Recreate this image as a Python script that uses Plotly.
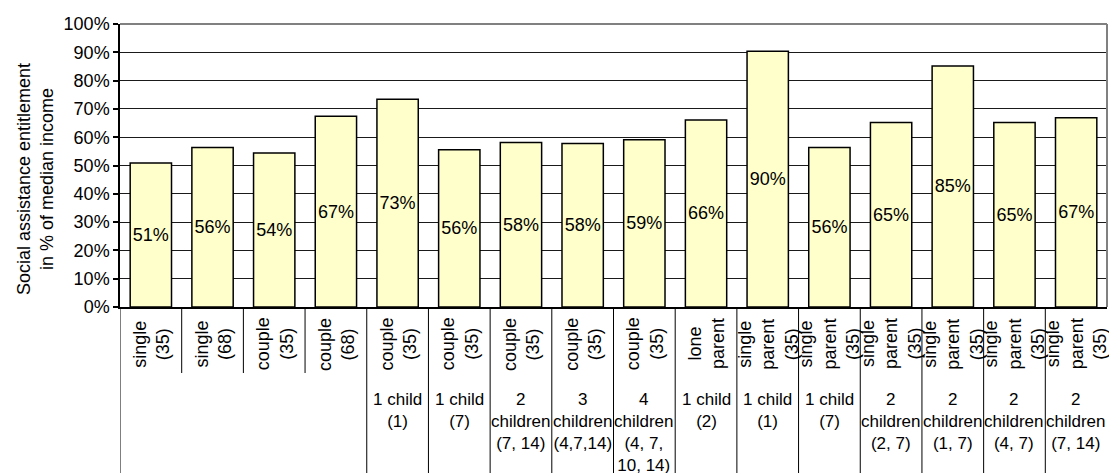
import plotly.graph_objects as go

# Household types: upper (rotated) label and lower (horizontal) label
household = ["single<br>(35)", "single<br>(68)", "couple<br>(35)", "couple<br>(68)",
             "couple<br>(35)", "couple<br>(35)", "couple<br>(35)", "couple<br>(35)",
             "couple<br>(35)", "lone<br>parent",
             "single<br>parent<br>(35)", "single<br>parent<br>(35)", "single<br>parent<br>(35)",
             "single<br>parent<br>(35)", "single<br>parent<br>(35)", "single<br>parent<br>(35)"]
children = ["", "", "", "",
            "1 child<br>(1)", "1 child<br>(7)", "2<br>children<br>(7, 14)",
            "3<br>children<br>(4,7,14)", "4<br>children<br>(4, 7,<br>10, 14)",
            "1 child<br>(2)", "1 child<br>(1)", "1 child<br>(7)",
            "2<br>children<br>(2, 7)", "2<br>children<br>(1, 7)",
            "2<br>children<br>(4, 7)", "2<br>children<br>(7, 14)"]

# Entitlement in % of median income
entitlement = [50.9, 56.4, 54.4, 67.4, 73.4, 55.6, 58.1, 57.8, 59.1, 66.1,
               90.4, 56.4, 65.2, 85.2, 65.2, 66.9]

y_ticks = [0, 10, 20, 30, 40, 50, 60, 70, 80, 90, 100]

# Groups of the lower label row: boundaries inside a group only cut the upper row
short_dividers = [1, 2, 3]

FONT = "Liberation Sans, Arial, sans-serif"

categories = [f"{h}|{c}|{i}" for i, (h, c) in enumerate(zip(household, children))]

fig = go.Figure()
fig.add_trace(go.Bar(
    x=categories,
    y=entitlement,
    marker=dict(color="#FFFFCC", line=dict(color="#000000", width=1.5)),
    texttemplate="%{y:.0f}%",
    textposition="inside",
    insidetextanchor="middle",
    textangle=0,
    constraintext="none",
    textfont=dict(family=FONT, size=18, color="#000000"),
    hoverinfo="skip",
))

W, H = 1109, 473
L, R, T, B = 120, 2, 24, 166
plot_h = H - T - B


def py(pixel_y):
    """Pixel row in the page -> paper y."""
    return (H - B - pixel_y) / plot_h


def px(pixel_x):
    """Pixel column in the page -> paper x."""
    return (pixel_x - L) / (W - L - R)


annotations = []
shapes = []
n = len(categories)

for i in range(n):
    annotations.append(dict(
        x=i, xref="x", y=py(344), yref="paper",
        text=household[i], textangle=-90, showarrow=False, align="center",
        xanchor="center", yanchor="middle",
        font=dict(family=FONT, size=18, color="#000000"),
    ))
    if children[i]:
        annotations.append(dict(
            x=i, xref="x", y=py(388), yref="paper",
            text=children[i], showarrow=False, align="center",
            xanchor="center", yanchor="top",
            font=dict(family=FONT, size=17, color="#000000"),
        ))

# Divider lines of the category table below the axis
for k in range(n):
    bottom = py(373) if k in short_dividers else py(H)
    shapes.append(dict(
        type="line", xref="x", yref="paper",
        x0=k - 0.5, x1=k - 0.5, y0=0, y1=bottom,
        line=dict(color="#000000", width=1),
    ))

# Plot-area frame on top and right
shapes.append(dict(type="line", xref="paper", yref="paper", x0=0, x1=1, y0=1, y1=1,
                   line=dict(color="#808080", width=2)))
shapes.append(dict(type="line", xref="paper", yref="paper", x0=1, x1=1, y0=0, y1=1,
                   line=dict(color="#808080", width=2)))

annotations.append(dict(
    x=px(35), xref="paper", y=py(179), yref="paper",
    text="Social assistance entitlement<br>in % of median income",
    textangle=-90, showarrow=False, align="center",
    xanchor="center", yanchor="middle",
    font=dict(family=FONT, size=18, color="#000000"),
))

fig.update_layout(
    width=W, height=H,
    margin=dict(l=L, r=R, t=T, b=B),
    paper_bgcolor="#FFFFFF", plot_bgcolor="#FFFFFF",
    bargap=0.33,
    showlegend=False,
    annotations=annotations,
    shapes=shapes,
    font=dict(family=FONT, color="#000000"),
)
fig.update_xaxes(
    range=[-0.5, n - 0.5],
    showticklabels=False, ticks="",
    showgrid=False, zeroline=False,
    showline=True, linecolor="#000000", linewidth=1.5,
)
fig.update_yaxes(
    range=[0, 100],
    tickvals=y_ticks, ticktext=[f"{v}%" for v in y_ticks],
    ticks="outside", ticklen=5, tickcolor="#000000", tickwidth=1.5,
    tickfont=dict(family=FONT, size=18, color="#000000"),
    showgrid=True, gridcolor="#1a1a1a", gridwidth=1,
    zeroline=False,
    showline=True, linecolor="#000000", linewidth=1.5,
)

fig.write_html("out.html")
